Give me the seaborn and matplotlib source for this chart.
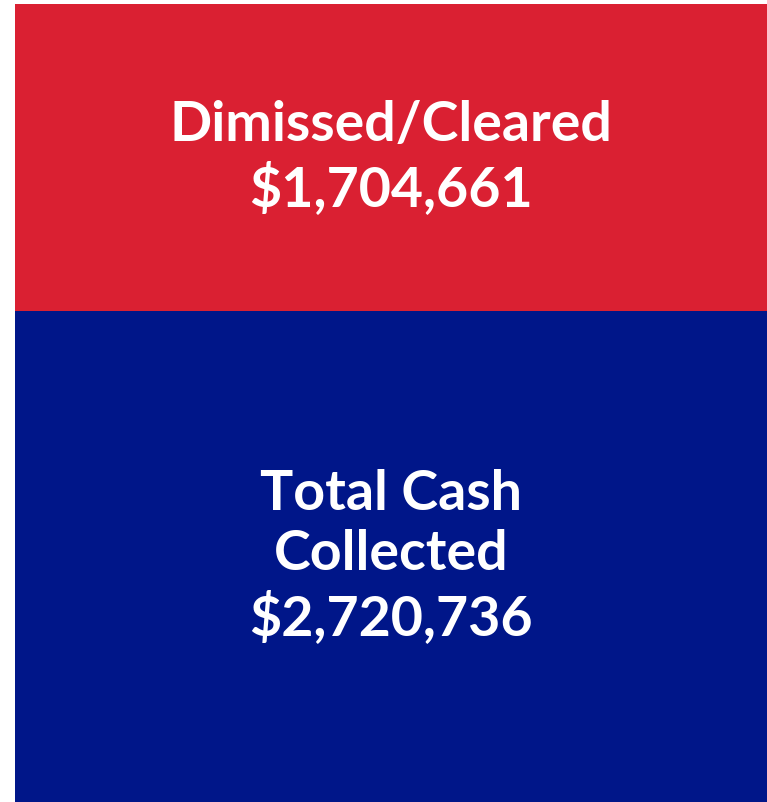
import matplotlib
matplotlib.use("Agg")
import matplotlib.pyplot as plt
import seaborn as sns

# Segment data, top to bottom
labels = ["Dimissed/Cleared", "Total Cash\nCollected"]
amounts = [1704661, 2720736]
colors = ["#DA2032", "#001689"]

sns.set_style("white")
plt.rcParams["font.family"] = ["Lato", "DejaVu Sans"]

fig = plt.figure(figsize=(7.67, 8.02), dpi=100)
ax = fig.add_axes([15 / 767, 0, 1 - 15 / 767, 798 / 802])

total = sum(amounts)
# stacked bar: draw total in red first, then blue bottom part over it
sns.barplot(x=[0], y=[total], color=colors[0], width=1, saturation=1,
            linewidth=0, ax=ax)
sns.barplot(x=[0], y=[amounts[1]], color=colors[1], width=1, saturation=1,
            linewidth=0, ax=ax)

ax.set_xlim(-0.5, 0.5)
ax.set_ylim(0, total)
ax.axis("off")

# labels centred in each segment
ax.text(0, amounts[1] + amounts[0] / 2, f"{labels[0]}\n${amounts[0]:,}",
        ha="center", va="center", color="white", fontsize=40,
        fontweight="bold", linespacing=1.24)
ax.text(0, amounts[1] / 2, f"{labels[1]}\n${amounts[1]:,}",
        ha="center", va="center", color="white", fontsize=40,
        fontweight="bold", linespacing=1.24)

fig.savefig("out.png", dpi=100)
